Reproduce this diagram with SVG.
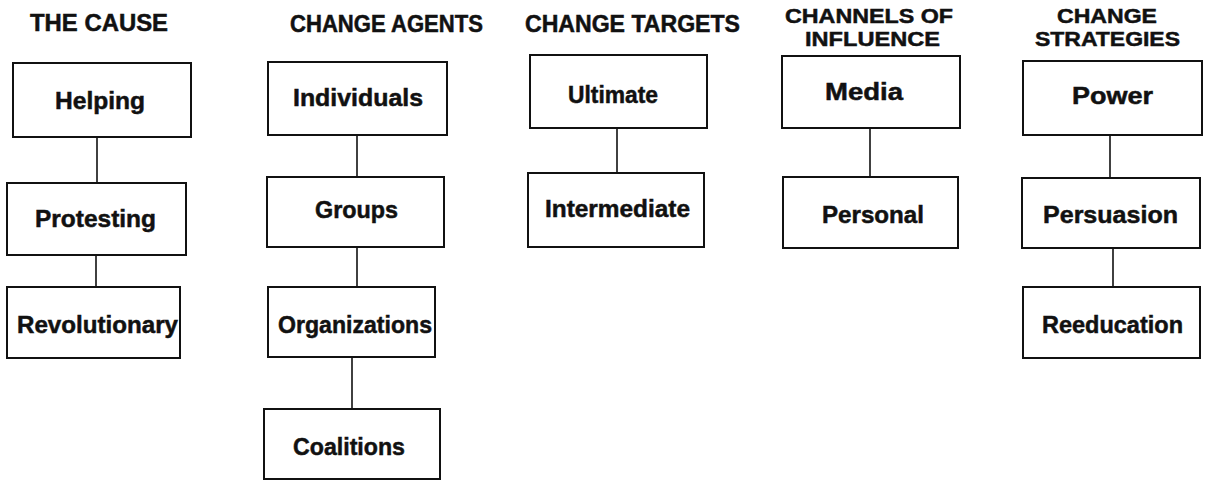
<svg xmlns="http://www.w3.org/2000/svg" width="1206" height="481" viewBox="0 0 1206 481">
  <style>
    .box { fill: #fff; stroke: #111; stroke-width: 2; }
    .link { stroke: #111; stroke-width: 1.6; fill: none; }
    text { font-family: "Liberation Sans", Arial, sans-serif; font-weight: bold; fill: #111; stroke: #111; stroke-width: 0.5; text-anchor: middle; }
    .head { font-size: 23px; }
    .head2 { font-size: 21px; }
    .label { font-size: 24px; }
  </style>
  <rect width="1206" height="481" fill="#fff"/>

  <!-- column headings -->
  <g id="headings">
    <text class="head" x="99" y="31" textLength="138" lengthAdjust="spacingAndGlyphs">THE CAUSE</text>
    <text class="head" x="386.5" y="32" textLength="193" lengthAdjust="spacingAndGlyphs">CHANGE AGENTS</text>
    <text class="head" x="632.5" y="32" textLength="215" lengthAdjust="spacingAndGlyphs">CHANGE TARGETS</text>
    <text class="head2" x="869" y="23" textLength="168" lengthAdjust="spacingAndGlyphs">CHANNELS OF</text>
    <text class="head2" x="872.5" y="46" textLength="135" lengthAdjust="spacingAndGlyphs">INFLUENCE</text>
    <text class="head2" x="1107" y="23" textLength="100" lengthAdjust="spacingAndGlyphs">CHANGE</text>
    <text class="head2" x="1107.5" y="46" textLength="145" lengthAdjust="spacingAndGlyphs">STRATEGIES</text>
  </g>

  <!-- vertical links between stacked boxes -->
  <g id="connectors">
    <line class="link" x1="97" y1="137" x2="97" y2="183"/>
    <line class="link" x1="96" y1="255" x2="96" y2="287"/>
    <line class="link" x1="357" y1="135" x2="357" y2="177"/>
    <line class="link" x1="357" y1="247" x2="357" y2="287"/>
    <line class="link" x1="352" y1="357" x2="352" y2="409"/>
    <line class="link" x1="617" y1="128" x2="617" y2="173"/>
    <line class="link" x1="870" y1="128" x2="870" y2="177"/>
    <line class="link" x1="1110" y1="135" x2="1110" y2="178"/>
    <line class="link" x1="1113" y1="248" x2="1113" y2="287"/>
  </g>

  <!-- The cause -->
  <g id="helping"><rect class="box" x="13" y="63" width="178" height="74"/><text class="label" x="100" y="109" textLength="90" lengthAdjust="spacingAndGlyphs">Helping</text></g>
  <g id="protesting"><rect class="box" x="7" y="183" width="179" height="72"/><text class="label" x="95.5" y="227" textLength="121" lengthAdjust="spacingAndGlyphs">Protesting</text></g>
  <g id="revolutionary"><rect class="box" x="7" y="287" width="173" height="71"/><text class="label" x="97.5" y="333" textLength="161" lengthAdjust="spacingAndGlyphs">Revolutionary</text></g>

  <!-- Change agents -->
  <g id="individuals"><rect class="box" x="268" y="62" width="179" height="73"/><text class="label" x="358" y="106" textLength="130" lengthAdjust="spacingAndGlyphs">Individuals</text></g>
  <g id="groups"><rect class="box" x="267" y="177" width="177" height="70"/><text class="label" x="356.5" y="218" textLength="83" lengthAdjust="spacingAndGlyphs">Groups</text></g>
  <g id="organizations"><rect class="box" x="268" y="287" width="167" height="70"/><text class="label" x="355" y="333" textLength="154" lengthAdjust="spacingAndGlyphs">Organizations</text></g>
  <g id="coalitions"><rect class="box" x="264" y="409" width="176" height="70"/><text class="label" x="349" y="455" textLength="112" lengthAdjust="spacingAndGlyphs">Coalitions</text></g>

  <!-- Change targets -->
  <g id="ultimate"><rect class="box" x="530" y="55" width="177" height="73"/><text class="label" x="613" y="103" textLength="90" lengthAdjust="spacingAndGlyphs">Ultimate</text></g>
  <g id="intermediate"><rect class="box" x="528" y="173" width="176" height="74"/><text class="label" x="617.5" y="217" textLength="145" lengthAdjust="spacingAndGlyphs">Intermediate</text></g>

  <!-- Channels of influence -->
  <g id="media"><rect class="box" x="782" y="56" width="178" height="72"/><text class="label" x="864" y="100" textLength="78" lengthAdjust="spacingAndGlyphs">Media</text></g>
  <g id="personal"><rect class="box" x="783" y="177" width="175" height="71"/><text class="label" x="873" y="223" textLength="102" lengthAdjust="spacingAndGlyphs">Personal</text></g>

  <!-- Change strategies -->
  <g id="power"><rect class="box" x="1023" y="61" width="179" height="74"/><text class="label" x="1112.5" y="104" textLength="81" lengthAdjust="spacingAndGlyphs">Power</text></g>
  <g id="persuasion"><rect class="box" x="1022" y="178" width="178" height="70"/><text class="label" x="1110.5" y="223" textLength="135" lengthAdjust="spacingAndGlyphs">Persuasion</text></g>
  <g id="reeducation"><rect class="box" x="1023" y="287" width="177" height="71"/><text class="label" x="1112.5" y="333" textLength="141" lengthAdjust="spacingAndGlyphs">Reeducation</text></g>
</svg>
